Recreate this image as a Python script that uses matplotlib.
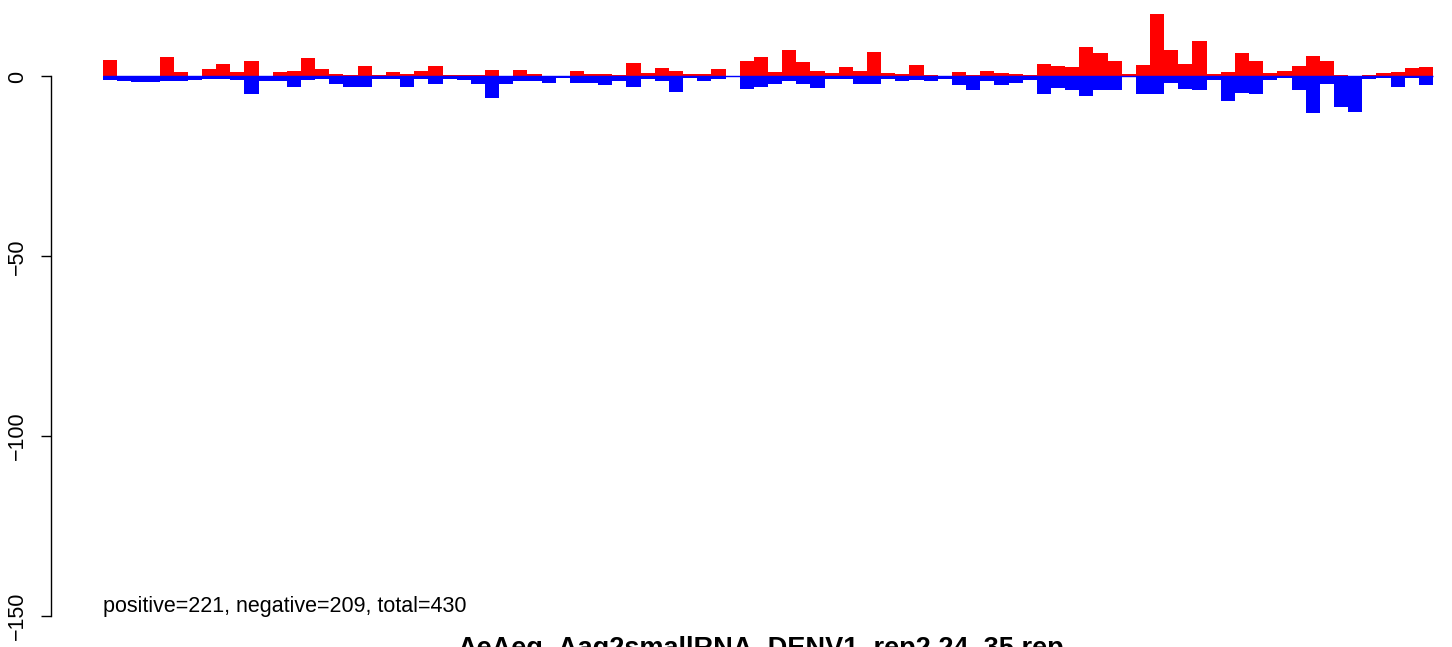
import matplotlib
matplotlib.use("Agg")
import matplotlib.pyplot as plt
import numpy as np

plt.rcParams['font.family'] = ['Liberation Sans', 'DejaVu Sans']

positive = [4.6, 0.0, 0.2, 0.0, 5.4, 1.25, 0.0, 2.1, 3.5, 1.25,
            4.3, 0.0, 1.25, 1.5, 5.1, 2.1, 0.7, 0.4, 2.9, 0.4,
            1.25, 0.7, 1.5, 2.9, 0.4, 0.4, 0.4, 1.8, 0.0, 1.8,
            0.7, 0.15, 0.0, 1.5, 0.7, 0.7, 0.4, 3.7, 1.0, 2.4,
            1.5, 0.7, 0.7, 2.1, 0.0, 4.3, 5.4, 1.25, 7.4, 4.0,
            1.5, 1.0, 2.6, 1.5, 6.8, 1.0, 0.7, 3.2, 0.4, 0.0,
            1.25, 0.4, 1.5, 1.0, 0.7, 0.4, 3.5, 2.9, 2.6, 8.2,
            6.5, 4.3, 0.7, 3.2, 17.4, 7.4, 3.5, 9.9, 0.7, 1.25,
            6.5, 4.3, 1.0, 1.5, 2.9, 5.7, 4.3, 0.4, 0.0, 0.4,
            1.0, 1.25, 2.4, 2.6]
negative = [0.9, 1.2, 1.5, 1.5, 1.2, 1.2, 0.9, 0.6, 0.6, 0.9,
            4.8, 1.2, 1.2, 2.8, 0.9, 0.6, 2.0, 2.8, 2.8, 0.6,
            0.6, 2.8, 0.6, 2.0, 0.6, 0.9, 2.0, 5.9, 2.0, 1.2,
            1.4, 1.7, 0.3, 1.7, 1.7, 2.5, 1.2, 2.8, 0.6, 1.2,
            4.2, 0.3, 1.2, 0.6, 0.1, 3.4, 2.8, 2.0, 1.4, 2.0,
            3.1, 0.6, 0.6, 2.0, 2.0, 0.6, 1.4, 0.9, 1.4, 0.6,
            2.3, 3.7, 1.2, 2.5, 1.7, 0.9, 5.0, 3.1, 3.7, 5.3,
            3.9, 3.7, 0.1, 5.0, 4.8, 1.7, 3.4, 3.7, 0.9, 6.7,
            4.5, 5.0, 0.9, 0.3, 3.7, 10.3, 2.0, 8.4, 9.8, 0.6,
            0.3, 2.8, 0.3, 2.5]
yticks = [0, -50, -100, -150]
summary = "positive=221, negative=209, total=430"
title = "AeAeg_Aag2smallRNA_DENV1_rep2.24_35.rep"

W, H = 1452, 647
fig = plt.figure(figsize=(W / 100, H / 100), dpi=100)

# axes placement in pixels
left_px = 51
right_px = 1486
top_px = 0.0
ymin, ymax = -156.0, 21.25
px_per_unit_y = 3.6
bottom_px = 76 + (-ymin) * px_per_unit_y
ax = fig.add_axes([left_px / W, (H - bottom_px) / H,
                   (right_px - left_px) / W, (bottom_px - top_px) / H])

n = len(positive)
x = np.arange(n)
ax.bar(x, [-v for v in negative], width=1.0, align='edge', color='#0000FF',
       edgecolor='none', linewidth=0)
ax.bar(x, positive, width=1.0, align='edge', color='#FF0000',
       edgecolor='none', linewidth=0)
ax.hlines(0, 0, n, colors='#0000FF', linewidth=1.0)

ax.set_xlim(-3.67, -3.67 + (right_px - left_px) / 14.15)
ax.set_ylim(ymin, ymax)

for s in ['top', 'right', 'bottom']:
    ax.spines[s].set_visible(False)
ax.spines['left'].set_bounds(-150, 0)
ax.spines['left'].set_linewidth(1.0)
ax.set_xticks([])
ax.set_yticks(yticks)
ax.set_yticklabels([str(v).replace('-', '\u2212') for v in yticks],
                   rotation=90, va='center', fontsize=15.5)
ax.tick_params(axis='y', length=7.2, width=1.0, pad=9.5)

ax.text(0, -148.8, summary, fontsize=15.5, ha='left', va='baseline')

fig.text(761 / W, (H - 656) / H, title, fontsize=19.5, fontweight='bold',
         ha='center', va='baseline')

fig.savefig("out.png", dpi=100)
